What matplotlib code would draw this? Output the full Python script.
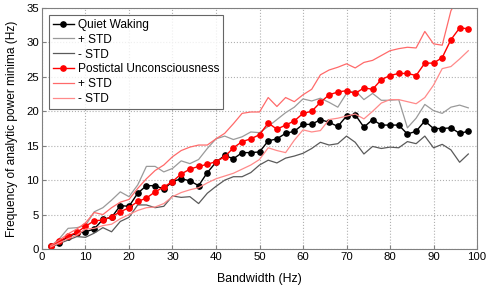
import matplotlib
matplotlib.use('Agg')
import matplotlib.pyplot as plt

plt.rcParams['font.family'] = ['Liberation Sans', 'DejaVu Sans']

# Bandwidth (Hz)
bandwidth = [2, 4, 6, 8, 10, 12, 14, 16, 18, 20, 22, 24, 26, 28, 30, 32, 34, 36, 38, 40,
             42, 44, 46, 48, 50, 52, 54, 56, 58, 60, 62, 64, 66, 68, 70, 72, 74, 76, 78, 80,
             82, 84, 86, 88, 90, 92, 94, 96, 98]

# Quiet waking: mean and +/- STD
qw_mean = [0.4, 0.9, 1.8, 2.3, 2.5, 2.9, 4.3, 4.6, 6.3, 6.2, 8.1, 9.2, 9.2, 8.7, 9.8, 10.2, 9.9, 9.2, 11.1, 12.6,
           13.6, 13.1, 14.0, 14.0, 14.1, 15.7, 16.0, 16.8, 17.1, 18.1, 18.1, 18.8, 18.4, 17.8, 19.3, 19.5, 17.7, 18.8, 18.0, 18.0,
           18.0, 16.7, 17.1, 18.6, 17.5, 17.5, 17.6, 16.8, 17.1]
qw_plus = [0.4, 1.5, 3.0, 3.1, 3.4, 5.4, 6.0, 7.1, 8.3, 7.6, 9.3, 12.0, 12.0, 11.2, 11.7, 12.8, 12.4, 13.0, 14.6, 16.0,
           16.4, 15.9, 16.3, 17.0, 16.9, 17.8, 18.8, 19.8, 20.6, 21.8, 21.5, 21.9, 21.3, 20.6, 22.6, 23.0, 21.7, 22.6, 21.6, 21.6,
           21.7, 17.6, 19.0, 21.0, 20.1, 19.7, 20.6, 20.9, 20.5]
qw_minus = [0.2, 0.8, 1.3, 1.8, 1.7, 2.3, 3.1, 2.5, 4.0, 4.6, 6.4, 6.4, 6.0, 6.2, 7.7, 7.5, 7.6, 6.6, 8.1, 9.1,
            10.0, 10.5, 10.5, 11.1, 12.2, 12.9, 12.5, 13.2, 13.5, 13.9, 14.6, 15.5, 15.1, 15.3, 16.4, 15.5, 13.8, 14.9, 14.6, 14.8,
            14.7, 15.6, 15.3, 16.4, 14.7, 15.2, 14.4, 12.6, 13.8]

# Postictal unconsciousness: mean and +/- STD
pu_mean = [0.4, 1.1, 1.9, 2.4, 3.3, 4.1, 4.2, 4.7, 5.4, 6.0, 6.9, 7.4, 8.3, 9.0, 9.8, 10.9, 11.6, 12.0, 12.3, 12.7,
           13.4, 14.7, 15.6, 16.0, 16.6, 18.3, 17.4, 18.0, 18.6, 19.7, 20.0, 21.3, 22.4, 22.8, 23.0, 22.6, 23.4, 23.2, 24.6, 25.2,
           25.5, 25.5, 25.2, 27.0, 27.0, 27.8, 30.4, 32.1, 32.0]
pu_plus = [0.5, 1.3, 2.2, 2.9, 3.8, 5.3, 5.0, 6.0, 6.8, 7.2, 8.8, 10.2, 11.4, 12.2, 13.4, 14.3, 14.8, 15.1, 15.1, 16.0,
           16.8, 18.2, 19.7, 19.9, 19.9, 22.0, 20.7, 22.0, 21.4, 22.4, 23.2, 25.3, 26.0, 26.4, 26.9, 26.3, 27.1, 27.4, 28.1, 28.8,
           29.1, 29.3, 29.2, 31.6, 29.8, 29.6, 34.6, 37.0, 38.5]
pu_minus = [0.3, 0.9, 1.5, 2.0, 2.9, 3.0, 3.4, 3.6, 4.4, 5.0, 5.6, 6.0, 6.1, 6.6, 7.6, 8.2, 8.6, 8.9, 9.6, 10.2,
            10.6, 11.0, 11.6, 12.2, 13.0, 14.7, 14.3, 14.0, 15.8, 17.3, 17.0, 17.2, 18.8, 19.0, 19.3, 19.6, 18.9, 20.0, 21.2, 21.7,
            21.7, 21.4, 21.1, 22.0, 23.8, 26.2, 26.5, 27.6, 28.8]

fig = plt.figure(figsize=(4.9, 2.87), dpi=100)
ax = fig.add_axes([0.0857, 0.1324, 0.8878, 0.8396])

ax.plot(bandwidth, qw_mean, color='black', marker='o', markersize=3.8, linewidth=1.0, label='Quiet Waking')
ax.plot(bandwidth, qw_plus, color='#9a9a9a', linewidth=0.9, label='+ STD')
ax.plot(bandwidth, qw_minus, color='#5a5a5a', linewidth=0.9, label='- STD')
ax.plot(bandwidth, pu_mean, color='red', marker='o', markersize=3.8, linewidth=1.0,
        label='Postictal Unconsciousness')
ax.plot(bandwidth, pu_plus, color='#ff6a6a', linewidth=0.9, label='+ STD')
ax.plot(bandwidth, pu_minus, color='#ff8a8a', linewidth=0.9, label='- STD')

ax.set_xlim(0, 100)
ax.set_ylim(0, 35)
ax.set_xticks(range(0, 101, 10))
ax.set_yticks(range(0, 36, 5))
ax.tick_params(direction='in', length=3, labelsize=8.2, color='#808080', pad=2)
ax.grid(True, linestyle=':', color='#b0b0b0', linewidth=0.8)
for s in ax.spines.values():
    s.set_color('#808080')

ax.set_xlabel('Bandwidth (Hz)', fontsize=8.9, labelpad=8)
ax.set_ylabel('Frequency of analytic power minima (Hz)', fontsize=8.6, labelpad=6)

leg = ax.legend(loc='upper left', fontsize=8.6, frameon=True, fancybox=False,
                borderaxespad=0.6, handlelength=1.8, handletextpad=0.3,
                labelspacing=0.24, borderpad=0.3)
leg.get_frame().set_edgecolor('#404040')
leg.get_frame().set_linewidth(0.8)

fig.savefig('out.png', dpi=100)
